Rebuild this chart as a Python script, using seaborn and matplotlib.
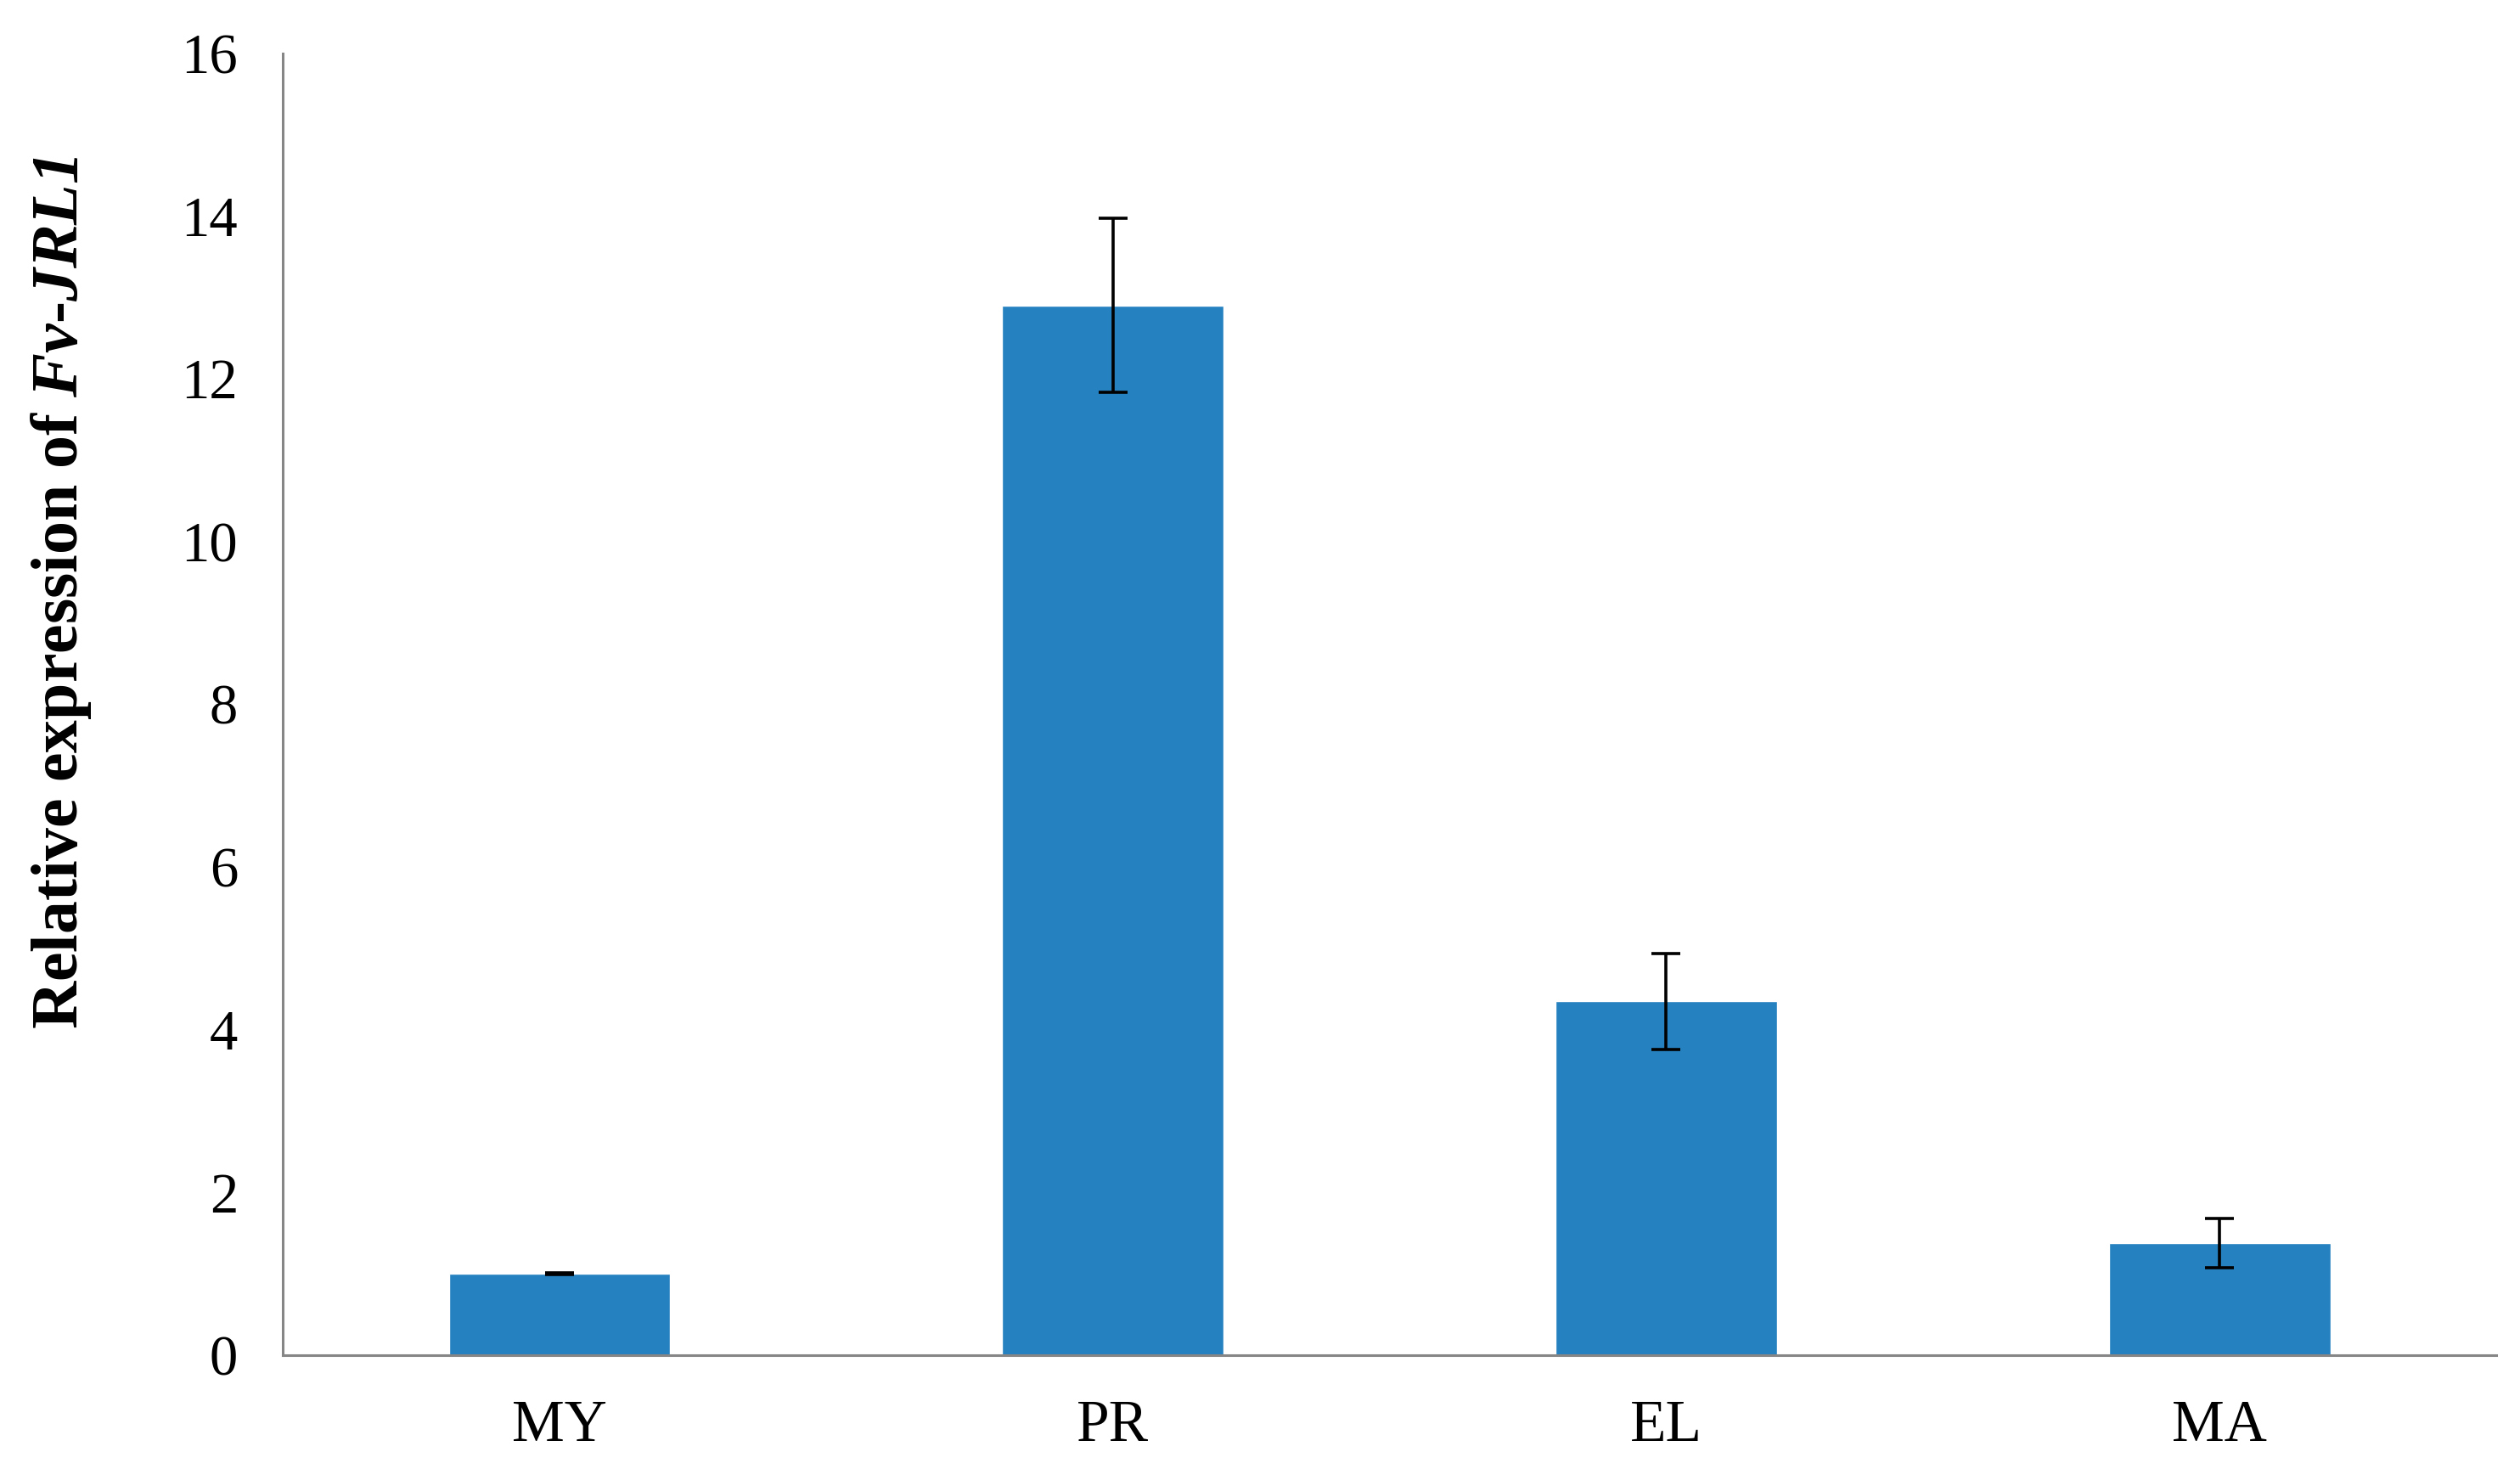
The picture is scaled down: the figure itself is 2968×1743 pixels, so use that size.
import numpy as np
import pandas as pd
import matplotlib
matplotlib.use("Agg")
import matplotlib.pyplot as plt
import seaborn as sns

stages = ['MY', 'PR', 'EL', 'MA']
expression = [1.0, 12.9, 4.35, 1.38]
expression_err = [0.01, 1.07, 0.59, 0.30]
y_ticks = [0, 2, 4, 6, 8, 10, 12, 14, 16]

bar_color = '#2681c0'
axis_color = '#868686'

sns.set_theme(style='white')
plt.rcParams['font.family'] = ['Liberation Serif', 'DejaVu Serif']
plt.rcParams['mathtext.fontset'] = 'custom'
plt.rcParams['mathtext.it'] = 'Liberation Serif:bold:italic'
plt.rcParams['mathtext.rm'] = 'Liberation Serif:bold:italic'
plt.rcParams['text.color'] = 'black'
plt.rcParams['axes.labelcolor'] = 'black'

data = pd.DataFrame({'stage': stages, 'expression': expression, 'err': expression_err})

fig = plt.figure(figsize=(29.68, 17.43), dpi=100)
ax = fig.add_axes([0.1122, 0.0843, 0.8784, 0.8798])

sns.barplot(data=data, x='stage', y='expression', color=bar_color, saturation=1,
            width=0.4, errorbar=None, ax=ax)
ax.errorbar(np.arange(len(stages)), data['expression'], yerr=data['err'], fmt='none',
            ecolor='black', elinewidth=2.6, capsize=12.5, capthick=2.6)

ax.set_xlim(-0.5, len(stages) - 0.5)
ax.set_ylim(0, 16)
ax.set_yticks(y_ticks)
ax.set_xlabel('')
ax.set_ylabel(r'Relative expression of $\mathit{Fv}$-$\mathit{JRL1}$',
              fontsize=56, fontweight='bold', color='black')
ax.yaxis.set_label_coords(-0.0855, 0.586)

ax.set_xticks(np.arange(-0.5, len(stages)), minor=True)
ax.tick_params(axis='x', which='major', length=0, labelsize=50, pad=38, colors='black')
ax.tick_params(axis='x', which='minor', length=20, width=2.2, color=axis_color, direction='out')
ax.tick_params(axis='y', length=20, width=2.2, color=axis_color, labelsize=48, pad=18,
               labelcolor='black', direction='out')

for side in ['top', 'right']:
    ax.spines[side].set_visible(False)
for side in ['left', 'bottom']:
    ax.spines[side].set_color(axis_color)
    ax.spines[side].set_linewidth(2.2)

fig.savefig('out.png', dpi=100, facecolor='white')
